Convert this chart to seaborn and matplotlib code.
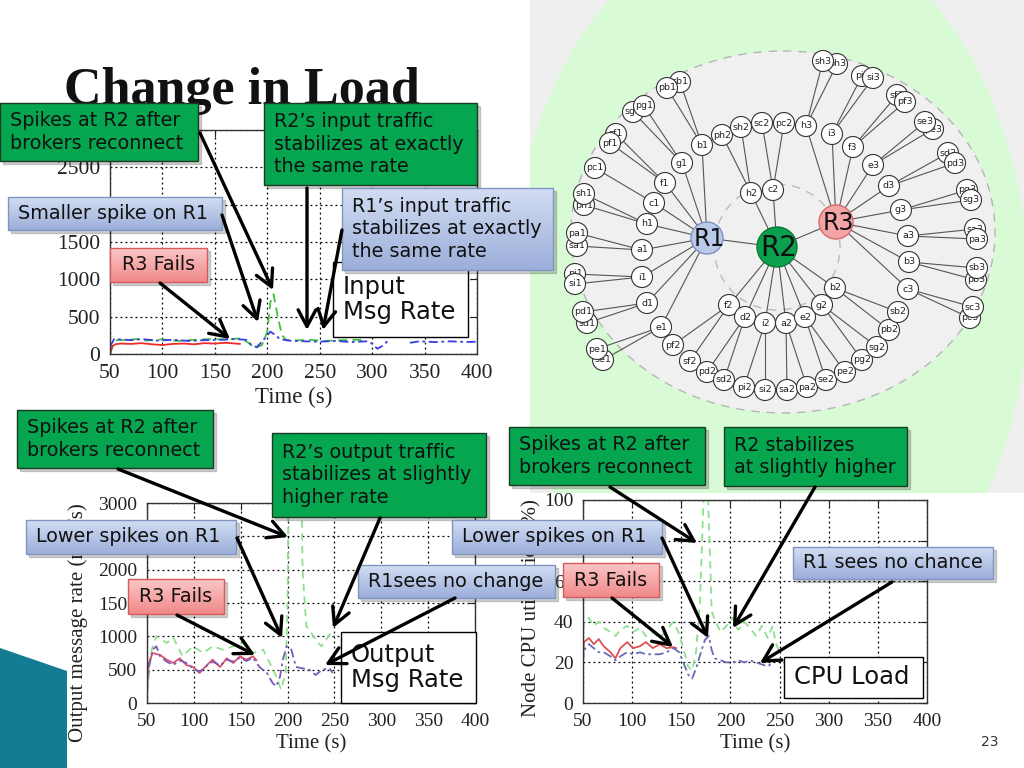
import numpy as np
import matplotlib
matplotlib.use("Agg")
import matplotlib.pyplot as plt
import seaborn as sns
from matplotlib.patches import Circle, Ellipse, Rectangle, Polygon, FancyArrowPatch
from matplotlib.colors import LinearSegmentedColormap

sns.set_style("white")
plt.rcParams["font.family"] = ["Liberation Serif", "DejaVu Serif"]

# ---- input message rate (top chart)
in_r3_t = [50, 52, 55, 60, 70, 80, 90, 100, 110, 120, 130, 140, 150, 160, 170, 174]
in_r3_v = [0, 100, 130, 140, 135, 145, 130, 120, 135, 140, 130, 145, 140, 150, 140, 135]
in_r2_t = [50, 53, 57, 65, 75, 85, 100, 115, 130, 145, 160, 175, 182, 188, 195, 200,
           203, 206, 210, 214, 218, 225, 240, 255, 270, 285, 295]
in_r2_v = [0, 120, 190, 185, 200, 180, 195, 175, 190, 200, 195, 210, 150, 80, 120, 300,
           700, 800, 500, 250, 190, 180, 190, 175, 185, 190, 185]
in_r1_t = [50, 54, 60, 70, 80, 95, 110, 125, 140, 155, 170, 180, 185, 190, 197, 203, 207,
           212, 220, 235, 250, 265, 280, 295, 300, 305, 310, 316]
in_r1_v = [100, 200, 195, 185, 200, 180, 190, 175, 185, 190, 200, 190, 120, 90, 200, 300,
           260, 200, 180, 170, 165, 175, 160, 170, 140, 70, 110, 190]
in_r1b_t = [336, 345, 360, 375, 390, 400]
in_r1b_v = [150, 170, 160, 170, 160, 165]

# ---- output message rate (bottom left)
out_r3_t = [50, 52, 56, 64, 71, 78, 85, 92, 99, 106, 114, 120, 128, 135, 142, 149, 156, 163, 167]
out_r3_v = [300, 600, 750, 720, 650, 600, 670, 570, 540, 450, 570, 650, 540, 670, 600, 700, 650, 700, 640]
out_r1_t = [50, 52, 56, 60, 64, 71, 78, 85, 92, 99, 106, 114, 120, 128, 135, 142, 149, 156,
            163, 170, 178, 184, 188, 192, 195, 199, 204, 209, 216, 223, 230, 237, 245, 248]
out_r1_v = [250, 550, 800, 850, 700, 620, 570, 640, 600, 520, 470, 560, 620, 560, 650, 620,
            680, 630, 680, 540, 450, 300, 250, 400, 650, 850, 800, 540, 520, 500, 420, 500, 520, 450]
out_r2_t = [50, 52, 55, 60, 71, 78, 88, 99, 110, 120, 131, 142, 152, 163, 174, 181, 188, 193,
            198, 200, 201, 215, 216, 220, 223, 230, 236, 241, 246, 250]
out_r2_v = [0, 400, 800, 1000, 900, 980, 700, 850, 750, 850, 800, 850, 900, 750, 800, 600,
            400, 200, 450, 1500, 3200, 3200, 2000, 1150, 1100, 950, 850, 950, 1050, 1000]

# ---- CPU load (bottom right)
cpu_r3_t = [50, 51, 56, 61, 66, 71, 78, 83, 88, 95, 101, 108, 114, 121, 128, 135, 142, 145]
cpu_r3_v = [22, 30, 32, 29, 31.5, 28, 25, 22, 27, 30, 27, 28, 30, 27, 29, 27, 27.5, 27]
cpu_r1_t = [50, 51, 56, 61, 66, 71, 78, 83, 88, 95, 101, 108, 114, 121, 128, 135, 142, 148,
            152, 157, 161, 165, 170, 174, 178, 181, 184, 190, 196, 202, 208, 214, 220, 226,
            232, 238, 243]
cpu_r1_v = [20, 26, 29, 27, 25, 25, 23, 21, 23, 25, 24, 25, 24, 24, 24, 25, 27, 25, 20, 14,
            12, 17, 25, 31, 33, 26, 22, 21, 20, 20, 21, 20, 21, 20, 19, 18, 20]
cpu_r2_t = [50, 51, 56, 61, 66, 71, 78, 83, 88, 95, 101, 108, 114, 121, 128, 135, 142, 147,
            152, 157, 161, 165, 169, 173, 177, 181, 185, 190, 196, 202, 208, 214, 220, 226,
            232, 238, 243, 246, 249]
cpu_r2_v = [30, 40, 42, 38, 40, 37, 35, 33, 36, 38, 35, 37, 33, 35, 32, 36, 40, 35, 27, 18,
            16, 25, 50, 105, 105, 45, 40, 35, 38, 42, 36, 40, 37, 33, 38, 32, 38, 30, 26]

time_ticks = [50, 100, 150, 200, 250, 300, 350, 400]

# ---- broker tree (pixel positions in the diagram image)
routers = ["R1", "R2", "R3"]
router_x = [707, 777, 836]
router_y = [238, 247, 222]
router_r = [16, 20, 17]
router_fill = ["#b9c9ea", "#0aa04e", "#f4a4a4"]
router_edge = ["#7d92c2", "#0a7a3a", "#d46a6a"]

child_names = ["b1", "g1", "f1", "c1", "h1", "a1", "i1", "d1", "e1",
               "h2", "c2", "f2", "d2", "i2", "a2", "e2", "g2", "b2",
               "h3", "i3", "f3", "e3", "d3", "g3", "a3", "b3", "c3"]
child_parent = ["R1"] * 9 + ["R2"] * 9 + ["R3"] * 9
child_x = [702, 682, 665, 654, 647, 642, 642, 647, 661,
           751, 773, 729, 745, 765, 786, 805, 822, 835,
           806, 832, 853, 873, 889, 901, 908, 909, 908]
child_y = [145, 163, 183, 203, 224, 250, 277, 303, 327,
           193, 190, 305, 317, 323, 323, 317, 305, 288,
           126, 134, 147, 165, 186, 210, 236, 262, 289]

leaf_names = ["sb1", "pb1", "sg1", "pg1", "sf1", "pf1", "pc1", "ph1", "sh1", "sa1", "pa1",
              "pi1", "si1", "sd1", "pd1", "se1", "pe1",
              "ph2", "sh2", "sc2", "pc2", "pf2", "sf2", "pd2", "sd2", "pi2", "si2",
              "sa2", "pa2", "se2", "pe2", "pg2", "sg2", "pb2", "sb2",
              "ph3", "sh3", "pi3", "si3", "sf3", "pf3", "pe3", "se3", "sd3", "pd3",
              "pg3", "sg3", "sa3", "pa3", "pb3", "sb3", "pc3", "sc3"]
leaf_parent = ["b1", "b1", "g1", "g1", "f1", "f1", "c1", "h1", "h1", "a1", "a1",
               "i1", "i1", "d1", "d1", "e1", "e1",
               "h2", "h2", "c2", "c2", "f2", "f2", "d2", "d2", "i2", "i2",
               "a2", "a2", "e2", "e2", "g2", "g2", "b2", "b2",
               "h3", "h3", "i3", "i3", "f3", "f3", "e3", "e3", "d3", "d3",
               "g3", "g3", "a3", "a3", "b3", "b3", "c3", "c3"]
leaf_x = [680, 667, 633, 644, 616, 610, 595, 584, 584, 577, 577,
          575, 575, 587, 583, 603, 597,
          722, 741, 762, 784, 673, 690, 707, 724, 744, 765,
          787, 807, 826, 845, 862, 877, 889, 898,
          837, 823, 862, 873, 897, 905, 933, 925, 948, 955,
          967, 971, 975, 977, 976, 977, 970, 973]
leaf_y = [82, 88, 112, 106, 134, 143, 168, 205, 194, 246, 233,
          274, 284, 323, 312, 360, 349,
          135, 127, 123, 123, 345, 361, 372, 380, 387, 390,
          390, 387, 380, 372, 360, 347, 330, 312,
          64, 61, 76, 78, 95, 102, 129, 122, 153, 163,
          190, 200, 229, 239, 280, 268, 318, 307]

fig = plt.figure(figsize=(10.24, 7.68), dpi=100)
fig.patch.set_facecolor("white")


def px_rect(x0, y0, x1, y1):
    return [x0 / 1024, (768 - y1) / 768, (x1 - x0) / 1024, (y1 - y0) / 768]


def style_axis(ax, ylim, yticks, fs):
    ax.set_xlim(50, 400)
    ax.set_ylim(*ylim)
    ax.set_xticks(time_ticks)
    ax.set_yticks(yticks)
    ax.grid(True, color="black", linestyle=(0, (1.5, 2.5)), linewidth=0.9)
    ax.tick_params(direction="in", length=5, top=True, right=True, labelsize=fs,
                   pad=7, colors="#222222")
    for s in ax.spines.values():
        s.set_visible(True)
        s.set_color("#333333")
        s.set_linewidth(1.0)
    ax.set_xlabel("Time (s)", fontsize=fs + 1, color="#222222", labelpad=3)


def draw_series(ax, t, v, color, ls, lw=1.3):
    sns.lineplot(x=t, y=v, ax=ax, color=color, linestyle=ls, linewidth=lw,
                 estimator=None, sort=False)


dashdot = (0, (5, 2, 1.5, 2))

# ---- top chart
ax1 = fig.add_axes(px_rect(110, 130, 477, 354))
draw_series(ax1, in_r2_t, in_r2_v, "#3cc43c", (0, (5, 3)))
draw_series(ax1, in_r1_t, in_r1_v, "#3b3be6", dashdot)
draw_series(ax1, in_r1b_t, in_r1b_v, "#3b3be6", dashdot)
draw_series(ax1, in_r3_t, in_r3_v, "#ee2a2a", "-")
style_axis(ax1, (0, 3000), [0, 500, 1000, 1500, 2000, 2500, 3000], 15.5)

# ---- bottom left chart
ax2 = fig.add_axes(px_rect(147, 503, 475, 703))
draw_series(ax2, out_r2_t, out_r2_v, "#8ee08e", (0, (4, 3)))
draw_series(ax2, out_r3_t, out_r3_v, "#e0506a", "-")
draw_series(ax2, out_r1_t, out_r1_v, "#7a5ab8", dashdot)
style_axis(ax2, (0, 3000), [0, 500, 1000, 1500, 2000, 2500, 3000], 14)
ax2.set_ylabel("Output message rate (msg/s)", fontsize=15, color="#222222")
ax2.yaxis.set_label_coords(-0.18, 0.4)

# ---- bottom right chart
ax3 = fig.add_axes(px_rect(583, 500, 927, 703))
draw_series(ax3, cpu_r2_t, cpu_r2_v, "#8ee08e", (0, (4, 3)))
draw_series(ax3, cpu_r3_t, cpu_r3_v, "#e05050", "-")
draw_series(ax3, cpu_r1_t, cpu_r1_v, "#6a6ab8", dashdot)
style_axis(ax3, (0, 100), [0, 20, 40, 60, 80, 100], 14)
ax3.set_ylabel("Node CPU utilization (%)", fontsize=15, color="#222222")
ax3.yaxis.set_label_coords(-0.12, 0.47)

# ---- broker tree diagram
axd = fig.add_axes(px_rect(530, 0, 1024, 493))
axd.add_patch(Rectangle((530, 0), 494, 493, color="#efefef", zorder=0))
axd.add_patch(Ellipse((770, 290), 516, 740, color="#d8fbd6", zorder=0.5))
axd.add_patch(Ellipse((783, 232), 424, 362, facecolor="#f0f0f0", edgecolor="#b5b5b5",
                      linestyle=(0, (6, 5)), linewidth=1.0, zorder=0.6))
axd.add_patch(Circle((777, 247), 63, facecolor="none", edgecolor="#bbbbbb",
                     linestyle=(0, (6, 5)), linewidth=1.0, zorder=0.7))

pos = {n: (x, y) for n, x, y in zip(routers, router_x, router_y)}
pos.update({n: (x, y) for n, x, y in zip(child_names, child_x, child_y)})
pos.update({n: (x, y) for n, x, y in zip(leaf_names, leaf_x, leaf_y)})

edges = [("R1", "R2"), ("R2", "R3")]
edges += list(zip(child_names, child_parent)) + list(zip(leaf_names, leaf_parent))
for a, b in edges:
    axd.plot([pos[a][0], pos[b][0]], [pos[a][1], pos[b][1]], color="#555555",
             linewidth=0.8, zorder=1)

z = 2
for n in leaf_names + child_names:
    x, y = pos[n]
    axd.add_patch(Circle((x, y), 10.5, facecolor="white", edgecolor="#333333",
                         linewidth=0.8, zorder=z))
    axd.text(x, y, n, ha="center", va="center", fontsize=6.8, family="DejaVu Sans",
             color="#222222", zorder=z + 0.5)
    z += 1
for n, r, fc, ec in zip(routers, router_r, router_fill, router_edge):
    x, y = pos[n]
    axd.add_patch(Circle((x, y), r, facecolor=fc, edgecolor=ec, linewidth=1.0, zorder=z))
    axd.text(x + 2, y + 1, n, ha="center", va="center", fontsize=17 if n != "R2" else 20,
             family="DejaVu Sans", color="#111111", zorder=z + 0.5)
    z += 1
axd.set_xlim(530, 1024)
axd.set_ylim(493, 0)
axd.axis("off")

# ---- slide overlay: title, callouts, arrows
ov = fig.add_axes([0, 0, 1, 1], zorder=10)
ov.patch.set_alpha(0)
ov.axis("off")

ov.text(64, 104, "Change in Load", fontsize=37.5, fontweight="bold", color="#111111",
        family="Liberation Serif", va="baseline", ha="left", zorder=1)
ov.add_patch(Polygon([(0, 648), (67, 671), (67, 768), (0, 768)], closed=True,
                     facecolor="#137b92", edgecolor="none", zorder=1))
ov.text(990, 742, "23", fontsize=10, color="#333333", family="DejaVu Sans",
        ha="center", va="center")

styles = {
    "green": ("#06a650", "#06a650", "#1d3a22"),
    "blue": ("#d2ddf3", "#9cafda", "#8094c0"),
    "red": ("#fbc6c6", "#f08a8a", "#d65a5a"),
    "white": ("white", "white", "black"),
}


def callout(x0, y0, x1, y1, text, kind, fs=13.8, center=False, ls=1.25, zz=3):
    top, bot, edge = styles[kind]
    if kind != "white":
        ov.add_patch(Rectangle((x0 + 3, y0 + 3), x1 - x0, y1 - y0, color="#000000",
                               alpha=0.18, zorder=zz - 0.2))
    cmap = LinearSegmentedColormap.from_list(kind, [top, bot])
    ov.imshow(np.linspace(0, 1, 40).reshape(-1, 1), extent=[x0, x1, y1, y0], cmap=cmap,
              aspect="auto", zorder=zz, interpolation="bilinear")
    ov.add_patch(Rectangle((x0, y0), x1 - x0, y1 - y0, facecolor="none", edgecolor=edge,
                           linewidth=1.0, zorder=zz + 0.1))
    if center:
        ov.text((x0 + x1) / 2, (y0 + y1) / 2, text, fontsize=fs, family="DejaVu Sans",
                ha="center", va="center", color="#111111", zorder=zz + 0.2)
    else:
        ov.text(x0 + 10, (y0 + y1) / 2, text, fontsize=fs, family="DejaVu Sans",
                ha="left", va="center", color="#111111", linespacing=ls, zorder=zz + 0.2)


# white labels first, coloured callouts over them
callout(333, 262, 468, 337, "Input\nMsg Rate", "white", fs=17.5, ls=1.1, zz=2)
callout(341, 632, 476, 703, "Output\nMsg Rate", "white", fs=17.5, ls=1.1, zz=2)
callout(784, 657, 923, 698, "CPU Load", "white", fs=17.5, zz=2)

callout(0, 103, 198, 161, "Spikes at R2 after\nbrokers reconnect", "green")
callout(264, 103, 477, 185, "R2\u2019s input traffic\nstabilizes at exactly\nthe same rate", "green")
callout(8, 197, 222, 230, "Smaller spike on R1", "blue")
callout(342, 188, 553, 270, "R1\u2019s input traffic\nstabilizes at exactly\nthe same rate", "blue")
callout(110, 248, 207, 282, "R3 Fails", "red", center=True)

callout(17, 410, 213, 468, "Spikes at R2 after\nbrokers reconnect", "green")
callout(272, 433, 486, 517, "R2\u2019s output traffic\nstabilizes at slightly\nhigher rate", "green")
callout(26, 520, 236, 554, "Lower spikes on R1", "blue")
callout(128, 579, 224, 614, "R3 Fails", "red", center=True)
callout(358, 565, 555, 598, "R1sees no change", "blue")

callout(509, 427, 705, 485, "Spikes at R2 after\nbrokers reconnect", "green")
callout(724, 427, 907, 486, "R2 stabilizes\nat slightly higher", "green")
callout(452, 520, 662, 554, "Lower spikes on R1", "blue")
callout(563, 563, 659, 597, "R3 Fails", "red", center=True)
callout(793, 547, 993, 579, "R1 sees no chance", "blue")

arrows = [((200, 133), (273, 290)), ((222, 215), (258, 322)), ((160, 283), (230, 339)),
          ((307, 188), (307, 330)), ((342, 230), (323, 330)),
          ((118, 469), (288, 537)), ((237, 538), (282, 638)), ((177, 615), (255, 655)),
          ((380, 518), (333, 628)), ((455, 598), (325, 665)),
          ((610, 487), (697, 543)), ((662, 538), (708, 638)), ((612, 598), (673, 647)),
          ((815, 487), (733, 628)), ((892, 582), (760, 663))]
for (sx, sy), (ex, ey) in arrows:
    ov.add_patch(FancyArrowPatch((sx, sy), (ex, ey),
                                 arrowstyle="->,head_length=0.6,head_width=0.32",
                                 mutation_scale=20, linewidth=2.4, color="black",
                                 shrinkA=0, shrinkB=0, zorder=8))

ov.set_xlim(0, 1024)
ov.set_ylim(768, 0)

fig.savefig("out.png", dpi=100, facecolor="white")
